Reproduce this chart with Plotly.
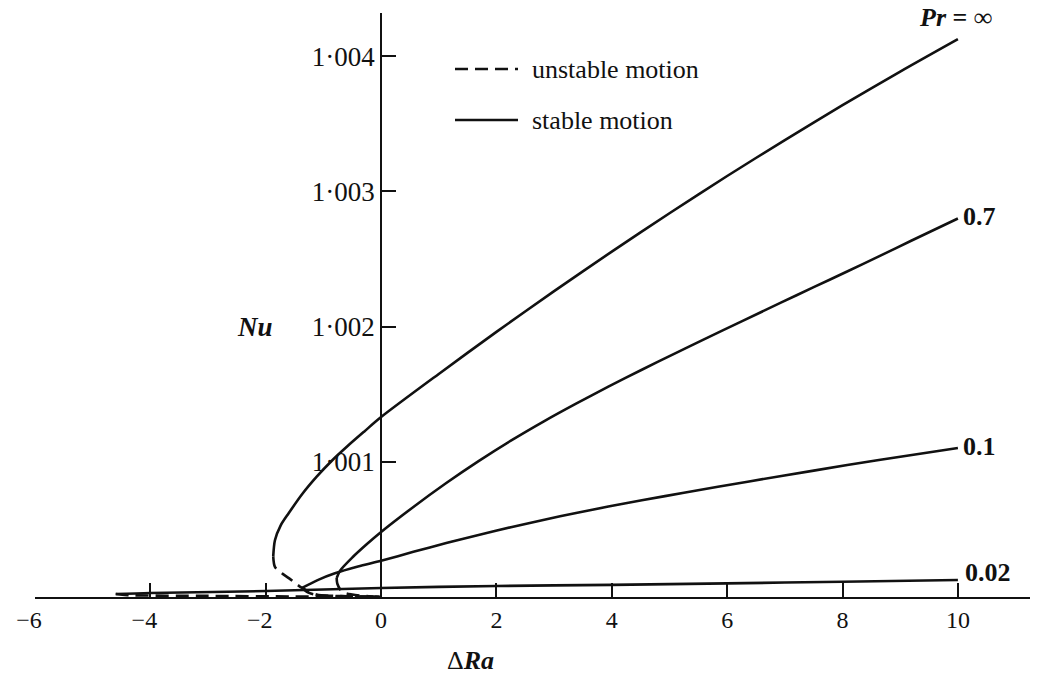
import plotly.graph_objects as go

# ---------------- data ----------------
# Pr = infinity
ra_inf_stable = [-1.87, -1.84, -1.74, -1.60, -1.37, -1.12, -0.85, -0.58, -0.29, 0.0,
                 1.0, 2.0, 3.0, 4.0, 5.0, 6.0, 7.0, 8.0, 9.0, 10.0]
nu_inf_stable = [1.000300, 1.000420, 1.000530, 1.000621, 1.000760, 1.000888, 1.001010, 1.001117,
                 1.001225, 1.001331, 1.001650, 1.001961, 1.002263, 1.002555, 1.002839, 1.003114,
                 1.003380, 1.003638, 1.003887, 1.004127]
ra_inf_unstable = [-1.87, -1.84, -1.72, -1.60, -1.37, -1.12, -0.60, 0.0]
nu_inf_unstable = [1.000300, 1.000222, 1.000175, 1.000140, 1.000067, 1.000018, 1.000006, 1.0]

# Pr = 0.7
ra_07_stable = [-0.77, -0.71, -0.49, -0.25, 0.0, 0.56, 1.13, 1.69, 2.25, 2.83, 3.38, 3.94, 4.52,
                5.08, 5.58, 6.26, 6.94, 7.50, 8.07, 8.63, 9.19, 10.0]
nu_07_stable = [1.000140, 1.000195, 1.000296, 1.000390, 1.000481, 1.000666, 1.000843, 1.001005,
                1.001156, 1.001301, 1.001430, 1.001556, 1.001681, 1.001799, 1.001902, 1.002041,
                1.002179, 1.002292, 1.002406, 1.002520, 1.002635, 1.002800]
ra_07_unstable = [-0.77, -0.76, -0.68, -0.50, -0.25, 0.0]
nu_07_unstable = [1.000140, 1.000100, 1.000040, 1.000018, 1.000007, 1.0]

# Pr = 0.1
ra_01_stable = [-1.37, -1.10, -0.80, -0.40, 0.0, 0.56, 1.13, 1.69, 2.25, 2.83, 3.38, 3.94,
                4.52, 5.25, 6.38, 7.50, 8.63, 10.0]
nu_01_stable = [1.000067, 1.000125, 1.000175, 1.000225, 1.000268, 1.000334, 1.000399, 1.000459,
                1.000516, 1.000572, 1.000621, 1.000669, 1.000715, 1.000771, 1.000855, 1.000935,
                1.001014, 1.001102]
ra_01_unstable = [-1.37, -1.25, -1.10, -0.60, 0.0]
nu_01_unstable = [1.000067, 1.000030, 1.000015, 1.000006, 1.0]

# Pr = 0.02
ra_002_stable = [-4.6, -4.0, -2.0, 0.0, 2.0, 4.0, 6.0, 8.0, 10.0]
nu_002_stable = [1.000022, 1.000030, 1.000044, 1.000067, 1.000081, 1.000090, 1.000101,
                 1.000113, 1.000126]
ra_002_unstable = [-4.6, -4.4, -3.0, -1.5, 0.0]
nu_002_unstable = [1.000022, 1.000014, 1.000008, 1.000004, 1.0]

curve_labels = ["<b><i>Pr</i> = ∞</b>", "<b>0.7</b>", "<b>0.1</b>", "<b>0.02</b>"]
x_ticks = [-6, -4, -2, 0, 2, 4, 6, 8, 10]
x_tick_text = ["−6\u2002", "−4\u2002", "−2\u2002", "0", "2", "4", "6", "8", "10"]
y_ticks = [1.001, 1.002, 1.003, 1.004]
y_tick_text = ["1·001", "1·002", "1·003", "1·004"]
legend_labels = ["unstable motion", "stable motion"]

# ---------------- layout geometry ----------------
W, H = 1037, 682
ML, MR, MT, MB = 35, 7, 13, 85
X_RANGE = [-6, 11.25]
Y_RANGE = [1.0, 1.00432]
FONT = "Liberation Serif"
INK = "#111111"
LW = 2.6
DASH = "13px,7px"

pw = W - ML - MR
ph = H - MT - MB


def px_to_paper_x(px):
    return (px - ML) / pw


def px_to_paper_y(py):
    return (H - MB - py) / ph


fig = go.Figure()

series = [
    (ra_inf_stable, nu_inf_stable, ra_inf_unstable, nu_inf_unstable),
    (ra_07_stable, nu_07_stable, ra_07_unstable, nu_07_unstable),
    (ra_01_stable, nu_01_stable, ra_01_unstable, nu_01_unstable),
    (ra_002_stable, nu_002_stable, ra_002_unstable, nu_002_unstable),
]
for xs, ys, xu, yu in series:
    fig.add_trace(go.Scatter(x=xs, y=ys, mode="lines",
                             line=dict(color=INK, width=LW, shape="spline", smoothing=0.8),
                             showlegend=False, hoverinfo="skip"))
    fig.add_trace(go.Scatter(x=xu, y=yu, mode="lines",
                             line=dict(color=INK, width=LW, dash=DASH, shape="spline", smoothing=0.8),
                             showlegend=False, hoverinfo="skip"))

# curve labels (placed next to the curve end points)
label_pos = [
    (ra_inf_stable[-1] - 0.05, 1.004285, "center"),
    (ra_07_stable[-1] + 0.06, nu_07_stable[-1] + 0.000012, "left"),
    (ra_01_stable[-1] + 0.06, nu_01_stable[-1] + 0.000012, "left"),
    (ra_002_stable[-1] + 0.08, nu_002_stable[-1] + 0.000052, "left"),
]
for text, (lx, ly, anchor) in zip(curve_labels, label_pos):
    fig.add_annotation(x=lx, y=ly, xref="x", yref="y", text=text, showarrow=False,
                       xanchor=anchor, yanchor="middle",
                       font=dict(family=FONT, size=26, color=INK))

# axis titles
fig.add_annotation(x=-2.18, y=1.002, xref="x", yref="y", text="<b><i>Nu</i></b>",
                   showarrow=False, xanchor="center", yanchor="middle",
                   font=dict(family=FONT, size=27, color=INK))
fig.add_annotation(x=px_to_paper_x(470), y=px_to_paper_y(660), xref="paper", yref="paper",
                   text="Δ<b><i>Ra</i></b>", showarrow=False, xanchor="center", yanchor="middle",
                   font=dict(family=FONT, size=26, color=INK))

# hand-drawn legend
leg_rows = [(69, DASH), (120, "solid")]
for (py, dash), txt in zip(leg_rows, legend_labels):
    fig.add_shape(type="line", xref="paper", yref="paper",
                  x0=px_to_paper_x(455), x1=px_to_paper_x(518),
                  y0=px_to_paper_y(py), y1=px_to_paper_y(py),
                  line=dict(color=INK, width=LW, dash=dash))
    fig.add_annotation(x=px_to_paper_x(530), y=px_to_paper_y(py), xref="paper", yref="paper",
                       text=txt, showarrow=False, xanchor="left", yanchor="middle",
                       font=dict(family=FONT, size=26, color=INK))

y_axis_pos = (0 - X_RANGE[0]) / (X_RANGE[1] - X_RANGE[0])

fig.update_layout(
    width=W, height=H,
    margin=dict(l=ML, r=MR, t=MT, b=MB, pad=0),
    paper_bgcolor="white", plot_bgcolor="white",
    showlegend=False,
    xaxis=dict(range=X_RANGE, showgrid=False, zeroline=False, showline=True,
               linecolor=INK, linewidth=2, ticks="inside", ticklen=14, tickwidth=2,
               tickcolor=INK, tickvals=x_ticks, ticktext=x_tick_text,
               tickfont=dict(family=FONT, size=24, color=INK)),
    yaxis=dict(range=Y_RANGE, showgrid=False, zeroline=False, showline=True,
               linecolor=INK, linewidth=2, anchor="free", position=y_axis_pos, side="left",
               ticks="inside", ticklen=14, tickwidth=2, tickcolor=INK,
               tickvals=y_ticks, ticktext=y_tick_text,
               tickfont=dict(family=FONT, size=27, color=INK)),
)

fig.write_html("out.html")
